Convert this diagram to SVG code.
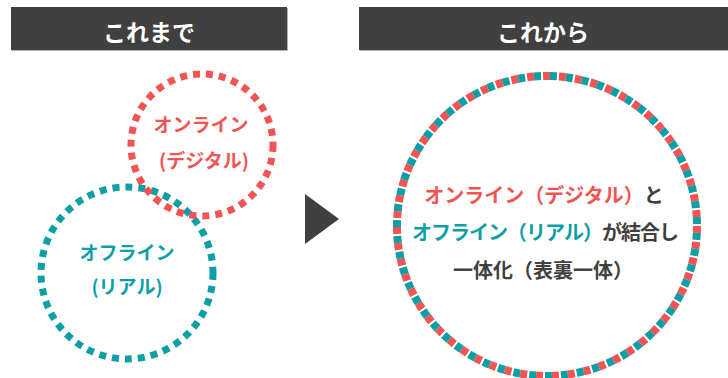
<svg xmlns="http://www.w3.org/2000/svg" width="728" height="378" viewBox="0 0 728 378">
  <style>
    .hdr { fill: #404040; }
    .hdr-shadow { fill: #b0b0b0; }
    .hdr-text { font-family: "Noto Sans CJK JP", "Noto Sans", sans-serif; font-weight: bold; font-size: 23px; fill: #ffffff; text-anchor: middle; }
    .ctext { font-family: "Noto Sans CJK JP", "Noto Sans", sans-serif; font-weight: bold; font-size: 19px; text-anchor: middle; }
    .btext { font-family: "Noto Sans CJK JP", "Noto Sans", sans-serif; font-weight: bold; font-size: 20px; text-anchor: middle; fill: #404040; }
    .red { fill: #f25454; }
    .teal { fill: #0e9fa6; }
    .dark { fill: #404040; }
    .ring { fill: none; stroke-width: 7; stroke-dasharray: 7 6; }
  </style>
  <rect width="728" height="378" fill="#ffffff"/>

  <g id="header-before">
    <rect class="hdr-shadow" x="12" y="8" width="276" height="43"/>
    <rect class="hdr" x="11" y="7" width="276" height="43"/>
    <text class="hdr-text" x="149" y="41">これまで</text>
  </g>

  <g id="header-after">
    <rect class="hdr-shadow" x="360" y="8" width="368" height="43"/>
    <rect class="hdr" x="359" y="7" width="369" height="43"/>
    <text class="hdr-text" x="543" y="41">これから</text>
  </g>

  <g id="offline">
    <circle class="ring" cx="127" cy="273" r="86" stroke="#0e9fa6"/>
    <text class="ctext teal" x="127" y="260">オフライン</text>
    <text class="ctext teal" x="127" y="294">(リアル)</text>
  </g>

  <g id="online">
    <circle class="ring" cx="202" cy="145" r="71" stroke="#f25454"/>
    <text class="ctext red" x="201" y="132">オンライン</text>
    <text class="ctext red" x="204" y="168">(デジタル)</text>
  </g>

  <g id="connectors">
    <polygon points="305,194 339,219 305,244" fill="#404040"/>
  </g>

  <g id="merged">
    <circle cx="547" cy="226" r="150" fill="none" stroke="#f25454" stroke-width="8" pathLength="944" stroke-dasharray="7 9"/>
    <circle cx="547" cy="226" r="150" fill="none" stroke="#0e9fa6" stroke-width="8" pathLength="944" stroke-dasharray="7 9" stroke-dashoffset="-7"/>
    <text class="btext" x="544" y="203"><tspan class="red">オンライン（デジタル）</tspan><tspan class="dark">と</tspan></text>
    <text class="btext" x="545" y="240" letter-spacing="-1"><tspan class="teal">オフライン（リアル）</tspan><tspan class="dark">が結合し</tspan></text>
    <text class="btext" x="543" y="278">一体化（表裏一体）</text>
  </g>
</svg>
